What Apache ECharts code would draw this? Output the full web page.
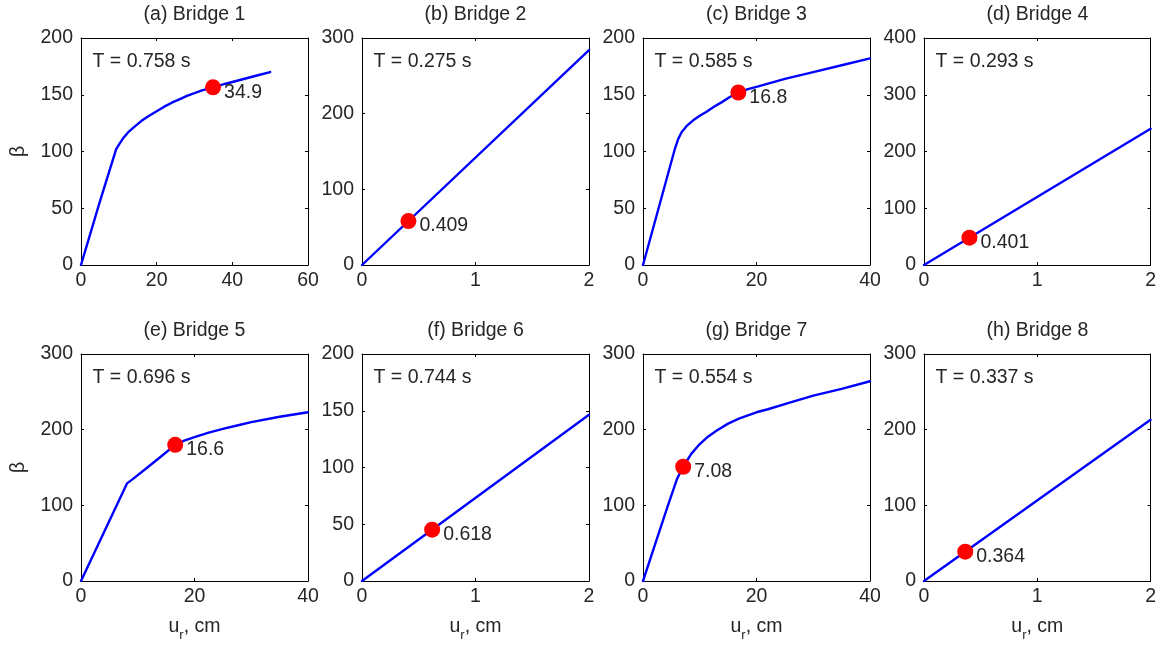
<!DOCTYPE html>
<html>
<head>
<meta charset="utf-8">
<script src="https://cdn.jsdelivr.net/npm/echarts@6/dist/echarts.min.js"></script>
<style>
html,body{margin:0;padding:0;background:#fff;}
#chart{width:1159px;height:645px;}
</style>
</head>
<body>
<div id="chart"></div>
<script>
// ---- data ----
const titles = ['(a) Bridge 1', '(b) Bridge 2', '(c) Bridge 3', '(d) Bridge 4',
                '(e) Bridge 5', '(f) Bridge 6', '(g) Bridge 7', '(h) Bridge 8'];
const periods = [0.758, 0.275, 0.585, 0.293, 0.696, 0.744, 0.554, 0.337];
const urValues = [34.9, 0.409, 16.8, 0.401, 16.6, 0.618, 7.08, 0.364];
const betaAtUr = [156.5, 58, 152, 48.1, 180, 45.2, 151, 38.8];
const xMax = [60, 2, 40, 2, 40, 2, 40, 2];
const xInterval = [20, 1, 20, 1, 20, 1, 20, 1];
const yMax = [200, 300, 200, 400, 300, 200, 300, 300];
const yInterval = [50, 100, 50, 100, 100, 50, 100, 100];

const curve1 = [[0,0],[5,56],[9.3,102],[10.2,107],[11.2,112],[12.5,117],[14,121.5],[16,127],[18,131.5],[20,135.5],[22,139.5],[24,143],[26,146],[28,149],[30,151.5],[32,153.8],[34.9,156.5],[38,159.5],[42,163],[46,166.5],[50,170]];
const curve2 = [[0,0],[2,284]];
const curve3 = [[0,0],[5.6,102],[6.2,111],[6.8,117],[7.7,122.5],[8.85,127.5],[10,131.5],[11.2,135],[12.5,139.5],[13.9,143.5],[15.3,148],[16.8,152],[18.5,155],[20,157],[25,164],[30,170],[35,176],[40,182]];
const curve4 = [[0,0],[2,240]];
const curve5 = [[0,0],[8.1,129],[9,134],[11.2,147],[14.1,164.5],[16.6,180],[18.2,185.5],[20,190],[22.5,196],[25,201],[27.5,205.5],[30,210],[35,217],[40,223]];
const curve6 = [[0,0],[2,146.4]];
const curve7 = [[0,0],[2.2,50],[4.4,100],[6,135],[7.08,151],[8.5,168],[10,181],[11.5,191],[13,199],[15,208],[17,215],[20,223],[22,227],[26,236],[30,245],[35,254],[40,264]];
const curve8 = [[0,0],[2,213]];
const curves = [curve1, curve2, curve3, curve4, curve5, curve6, curve7, curve8];

// ---- layout / style ----
const FONT = '"Liberation Sans", Arial, Helvetica, sans-serif';
const FS = 19.5;
const TXT = '#262626';
const colX = [81, 362, 643, 924];
const rowY = [38, 354];
const W = 227, H = 227;

const grid = [], xAxis = [], yAxis = [], series = [], graphic = [];
const labelStyle = {color: TXT, fontSize: FS, fontFamily: FONT};
const lineStyleAxis = {color: '#000', width: 1};

for (let i = 0; i < 8; i++) {
  const col = i % 4, row = Math.floor(i / 4);
  grid.push({left: colX[col], top: rowY[row], width: W, height: H, containLabel: false});
  const baseX = {
    type: 'value', gridIndex: i, min: 0, max: xMax[i], interval: xInterval[i],
    axisLine: {show: true, onZero: false, lineStyle: lineStyleAxis},
    axisTick: {show: true, inside: true, length: 3, lineStyle: lineStyleAxis},
    splitLine: {show: false}
  };
  xAxis.push(Object.assign({}, baseX, {
    position: 'bottom',
    axisLabel: Object.assign({margin: 6}, labelStyle),
    name: row === 1 ? '{u|u}{s|r}{u|, cm}' : '',
    nameLocation: 'middle', nameGap: 35,
    nameTextStyle: {
      color: TXT, fontFamily: FONT, fontSize: FS,
      rich: {
        u: {fontSize: FS, fontFamily: FONT, color: TXT, lineHeight: 22},
        s: {fontSize: 13, fontFamily: FONT, color: TXT, lineHeight: 13, padding: [17, 0, 0, 0]}
      }
    }
  }));
  xAxis.push(Object.assign({}, baseX, {position: 'top', axisLabel: {show: false}}));
  const baseY = {
    type: 'value', gridIndex: i, min: 0, max: yMax[i], interval: yInterval[i],
    axisLine: {show: true, onZero: false, lineStyle: lineStyleAxis},
    axisTick: {show: true, inside: true, length: 3, lineStyle: lineStyleAxis},
    splitLine: {show: false}
  };
  yAxis.push(Object.assign({}, baseY, {
    position: 'left',
    axisLabel: Object.assign({margin: 8}, labelStyle),
    name: col === 0 ? 'β' : '',
    nameLocation: 'middle', nameGap: 52, nameRotate: 90,
    nameTextStyle: {color: TXT, fontFamily: FONT, fontSize: FS}
  }));
  yAxis.push(Object.assign({}, baseY, {position: 'right', axisLabel: {show: false}}));

  series.push({
    type: 'line', xAxisIndex: 2 * i, yAxisIndex: 2 * i,
    data: curves[i], showSymbol: false, symbol: 'none', smooth: false,
    lineStyle: {color: '#0000ff', width: 2.4, join: 'round', cap: 'round'}, z: 2, animation: false
  });
  series.push({
    type: 'scatter', xAxisIndex: 2 * i, yAxisIndex: 2 * i,
    data: [[urValues[i], betaAtUr[i]]], symbolSize: 16,
    itemStyle: {color: '#ff0000', opacity: 1}, z: 3, animation: false,
    label: {
      show: true, position: 'right', distance: 3, offset: [0, 5],
      formatter: String(urValues[i]), color: TXT, fontSize: FS, fontFamily: FONT
    }
  });

  graphic.push({
    type: 'text', x: colX[col] + W / 2, y: rowY[row] - 23,
    style: {text: titles[i], font: FS + 'px ' + FONT, fill: TXT, align: 'center', verticalAlign: 'middle'}
  });
  graphic.push({
    type: 'text', x: colX[col] + 11.5, y: rowY[row] + 24,
    style: {text: 'T = ' + periods[i].toFixed(3) + ' s', font: FS + 'px ' + FONT, fill: TXT, align: 'left', verticalAlign: 'middle'}
  });
}

const chart = echarts.init(document.getElementById('chart'), null, {renderer: 'canvas'});
chart.setOption({
  animation: false,
  backgroundColor: '#fff',
  grid, xAxis, yAxis, series, graphic
});
</script>
</body>
</html>
